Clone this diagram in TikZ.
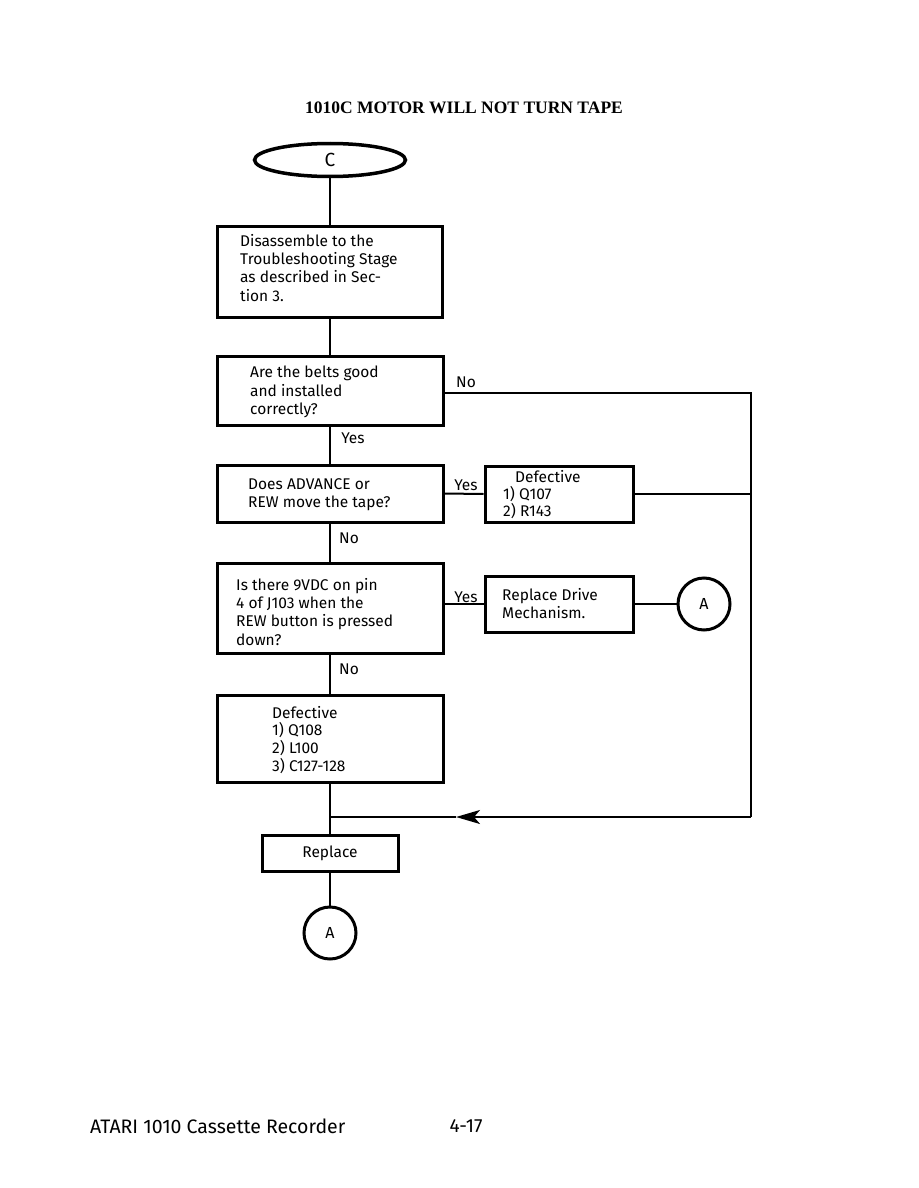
\documentclass[tikz,border=0pt]{standalone}
\usepackage{fontspec}
\setmainfont{Fira Sans}[Ligatures={NoCommon}]
\newfontfamily\titlefont{Liberation Serif}
\usetikzlibrary{arrows.meta,shapes.geometric}
\begin{document}
\begin{tikzpicture}[x=1pt,y=-1pt,
  box/.style={draw, line width=3pt, rectangle, inner sep=0pt},
  conn/.style={line width=2pt},
  txt/.style={anchor=north west, align=left, inner sep=0pt, font=\fontsize{15.5}{18.3}\selectfont},
  lbl/.style={inner sep=0pt, font=\fontsize{15.5}{18}\selectfont},
  term/.style={draw, circle, line width=3pt, minimum size=52pt, inner sep=0pt, font=\fontsize{16}{18}\selectfont}]
\useasboundingbox (0,0) rectangle (918,1188);
\node[font=\titlefont\bfseries\fontsize{17.5}{20}\selectfont] (title) at (464,108) {1010C MOTOR WILL NOT TURN TAPE};
\node[draw, ellipse, line width=3.5pt, minimum width=151pt, minimum height=33pt, inner sep=0pt, font=\fontsize{19}{20}\selectfont] (c) at (330,160) {C};
\node[box, minimum width=225pt, minimum height=91pt] (b1) at (330,271.5) {};
\node[box, minimum width=226pt, minimum height=69pt] (b2) at (330,390.5) {};
\node[box, minimum width=226pt, minimum height=57pt] (b3) at (330,493.5) {};
\node[box, minimum width=148pt, minimum height=56pt] (b4) at (559,494) {};
\node[box, minimum width=226pt, minimum height=90pt] (b5) at (330,608) {};
\node[box, minimum width=148pt, minimum height=56pt] (b6) at (559,604) {};
\node[box, minimum width=226pt, minimum height=87pt] (b7) at (330,738.5) {};
\node[box, minimum width=136pt, minimum height=36pt, font=\fontsize{15.5}{18}\selectfont] (b8) at (330,853) {Replace};
\node[term] (a1) at (704,604) {A};
\node[term] (a2) at (330,933) {A};
% texts
\node[txt] (t1) at (240,234) {Disassemble to the\\Troubleshooting Stage\\as described in Sec-\\tion 3.};
\node[txt] (t2) at (250,366) {Are the belts good\\and installed\\correctly?};
\node[txt] (t3) at (248,478) {Does ADVANCE or\\REW move the tape?};
\node[txt, font=\fontsize{15.5}{17}\selectfont] (t4) at (503,470) {\hspace*{12pt}Defective\\1) Q107\\2) R143};
\node[txt] (t5) at (236,578) {Is there 9VDC on pin\\4 of J103 when the\\REW button is pressed\\down?};
\node[txt] (t6) at (502,588) {Replace Drive\\Mechanism.};
\node[txt, font=\fontsize{15.5}{17.7}\selectfont] (t7) at (272,706) {Defective\\1) Q108\\2) L100\\3) C127-128};
% labels
\node[lbl] (l1) at (466,382) {No};
\node[lbl] (l2) at (353,438) {Yes};
\node[lbl] (l3) at (466,485) {Yes};
\node[lbl] (l4) at (349,538) {No};
\node[lbl] (l5) at (466,597) {Yes};
\node[lbl] (l6) at (349,669) {No};
% junction coordinates
\coordinate (rt) at (751,393);
\coordinate (rb) at (751,817);
\coordinate (ah) at (456,817);
\coordinate (jn) at (330,817);
% connectors
\draw[conn] (c.south) -- (b1.north);
\draw[conn] (b1.south) -- (b2.north);
\draw[conn] (b2.south) -- (b3.north);
\draw[conn] (b3.south) -- (b5.north);
\draw[conn] (b5.south) -- (b7.north);
\draw[conn] (b7.south) -- (b8.north);
\draw[conn] (b8.south) -- (a2.north);
\draw[conn] (b3.east) -- (b4.west);
\draw[conn] (b5.east |- b6.west) -- (b6.west);
\draw[conn] (b6.east) -- (a1.west);
\draw[conn] (b2.east |- rt) -- (rt) -- (rb);
\draw[conn, -{Stealth[length=24pt,width=14pt,inset=6pt]}] (rb) -- (ah);
\draw[conn] (ah) -- (jn);
\draw[conn] (b4.east) -- (b4.east -| rt);
% footer
\node[anchor=west, inner sep=0pt, font=\fontsize{19.5}{22}\selectfont] (f1) at (90,1126) {ATARI 1010 Cassette Recorder};
\node[inner sep=0pt, font=\fontsize{19}{22}\selectfont] (f2) at (466,1126) {4-17};
\end{tikzpicture}
\end{document}
